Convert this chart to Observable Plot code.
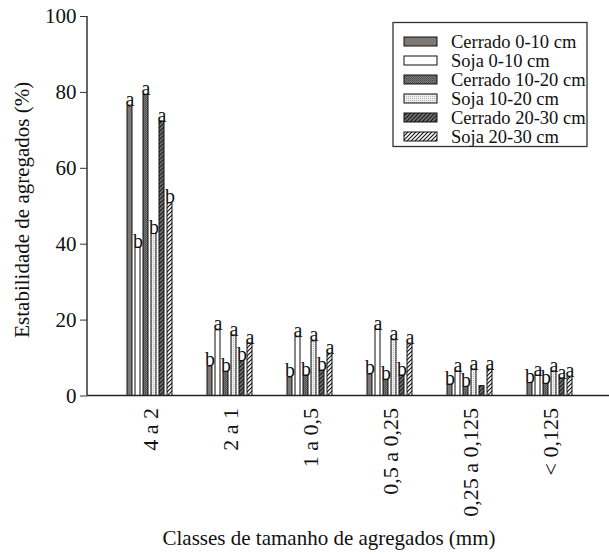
<!DOCTYPE html>
<html>
<head>
<meta charset="utf-8">
<script src="https://cdn.jsdelivr.net/npm/d3@7"></script>
<script src="https://cdn.jsdelivr.net/npm/@observablehq/plot@0.6"></script>
<style>
  html, body { margin: 0; padding: 0; background: #fff; }
  #chart { width: 609px; height: 554px; }
</style>
</head>
<body>
<div id="chart"></div>
<script>
// ---- data ----
const groups = ["4 a 2", "2 a 1", "1 a 0,5", "0,5 a 0,25", "0,25 a 0,125", "< 0,125"];
const series = ["Cerrado 0-10 cm", "Soja 0-10 cm", "Cerrado 10-20 cm", "Soja 10-20 cm", "Cerrado 20-30 cm", "Soja 20-30 cm"];

const cerrado0_10 = [76.3, 7.8, 4.9, 5.7, 3.0, 3.4];
const soja0_10    = [39.1, 17.3, 15.5, 17.4, 6.4, 5.3];
const cerrado10_20 = [79.3, 6.4, 5.4, 4.3, 2.4, 3.2];
const soja10_20    = [42.7, 15.9, 14.4, 14.7, 6.9, 6.4];
const cerrado20_30 = [72.3, 9.2, 6.7, 5.4, 2.6, 4.6];
const soja20_30    = [50.8, 13.8, 11.0, 13.6, 6.9, 4.9];

const lettersCerrado0_10  = ["a", "b", "b", "b", "b", "b"];
const lettersSoja0_10     = ["b", "a", "a", "a", "a", "a"];
const lettersCerrado10_20 = ["a", "b", "b", "b", "b", "b"];
const lettersSoja10_20    = ["b", "a", "a", "a", "a", "a"];
const lettersCerrado20_30 = ["a", "b", "b", "b", "", "a"];
const lettersSoja20_30    = ["b", "a", "a", "a", "a", "a"];

const yTicks = [0, 20, 40, 60, 80, 100];

const values = [cerrado0_10, soja0_10, cerrado10_20, soja10_20, cerrado20_30, soja20_30];
const letters = [lettersCerrado0_10, lettersSoja0_10, lettersCerrado10_20, lettersSoja10_20, lettersCerrado20_30, lettersSoja20_30];

const data = [];
groups.forEach((g, gi) => {
  series.forEach((s, si) => {
    data.push({group: g, series: s, value: values[si][gi], letter: letters[si][gi]});
  });
});

const patternIds = ["p0", "p1", "p2", "p3", "p4", "p5"];
const fills = patternIds.map(id => `url(#${id})`);
const FONT = "Liberation Serif";
const ML = 87;

function build(axisDx) {
  return Plot.plot({
    width: 609,
    height: 554,
    marginLeft: ML,
    marginRight: 1,
    marginTop: 16,
    marginBottom: 158.5,
    style: {fontFamily: FONT, fontSize: "21px", color: "#111", background: "#fff"},
    fx: {domain: groups, paddingInner: 0.3, paddingOuter: 0.406, align: 0.538},
    x: {domain: series, padding: 0.35, axis: null},
    y: {domain: [0, 100]},
    color: {domain: series, range: fills},
    marks: [
      Plot.barY(data, {fx: "group", x: "series", y: "value", fill: "series", stroke: "#111", strokeWidth: 1}),
      Plot.text(data, {fx: "group", x: "series", y: "value", text: "letter", lineAnchor: "bottom", dy: 0,
        fontSize: 20, fontFamily: FONT, fill: "#111"}),
      Plot.axisY({ticks: yTicks, tickSize: 7, tickPadding: 4, fontSize: 21, fontFamily: FONT, stroke: "#333",
        label: null, dx: axisDx}),
      Plot.axisFx({anchor: "bottom", tickSize: 0, tickPadding: 12, tickRotate: -90, fontSize: 22, fontFamily: FONT, label: null})
    ]
  });
}

// first pass: find where the leftmost facet starts so the y axis can sit on the frame's left edge
const probe = build(0);
const firstFacetLeft = probe.scale("fx").apply(groups[0]);
const chart = build(ML - firstFacetLeft);

const svg = d3.select(chart);
// force the serif face on every text the library drew
svg.style("font-family", "'Liberation Serif', serif");
svg.selectAll("g").filter(function() { return this.hasAttribute("font-family"); })
  .attr("font-family", "'Liberation Serif', serif");
svg.selectAll("text").attr("font-family", "'Liberation Serif', serif").style("font-family", "'Liberation Serif', serif");
svg.selectAll("tspan").style("font-family", "'Liberation Serif', serif");

// patterns
const defs = svg.insert("defs", ":first-child");
defs.append("pattern").attr("id", "p0").attr("patternUnits", "userSpaceOnUse").attr("width", 4).attr("height", 4)
  .append("rect").attr("width", 4).attr("height", 4).attr("fill", "#7e7975");
defs.append("pattern").attr("id", "p1").attr("patternUnits", "userSpaceOnUse").attr("width", 4).attr("height", 4)
  .append("rect").attr("width", 4).attr("height", 4).attr("fill", "#fff");
{
  const p = defs.append("pattern").attr("id", "p2").attr("patternUnits", "userSpaceOnUse").attr("width", 2).attr("height", 2);
  p.append("rect").attr("width", 2).attr("height", 2).attr("fill", "#7a7a7a");
  p.append("rect").attr("width", 1).attr("height", 1).attr("fill", "#4a4a4a");
  p.append("rect").attr("x", 1).attr("y", 1).attr("width", 1).attr("height", 1).attr("fill", "#5a5a5a");
}
{
  const p = defs.append("pattern").attr("id", "p3").attr("patternUnits", "userSpaceOnUse").attr("width", 2).attr("height", 2);
  p.append("rect").attr("width", 2).attr("height", 2).attr("fill", "#eeeeee");
  p.append("rect").attr("width", 1).attr("height", 1).attr("fill", "#b8b8b8");
}
{
  const p = defs.append("pattern").attr("id", "p4").attr("patternUnits", "userSpaceOnUse").attr("width", 4).attr("height", 4);
  p.append("rect").attr("width", 4).attr("height", 4).attr("fill", "#7a7a7a");
  p.append("path").attr("d", "M-1,1 l2,-2 M0,4 l4,-4 M3,5 l2,-2").attr("stroke", "#222").attr("stroke-width", 1.3);
}
{
  const p = defs.append("pattern").attr("id", "p5").attr("patternUnits", "userSpaceOnUse").attr("width", 4).attr("height", 4);
  p.append("rect").attr("width", 4).attr("height", 4).attr("fill", "#fff");
  p.append("path").attr("d", "M-1,1 l2,-2 M0,4 l4,-4 M3,5 l2,-2").attr("stroke", "#111").attr("stroke-width", 1.1);
}

// axis lines using the y scale
const ys = chart.scale("y");
const y0 = ys.apply(0), y100 = ys.apply(100);
svg.append("line").attr("x1", ML).attr("x2", ML).attr("y1", y100).attr("y2", y0)
  .attr("stroke", "#333").attr("stroke-width", 1.5);
svg.append("line").attr("x1", ML).attr("x2", 609).attr("y1", y0).attr("y2", y0)
  .attr("stroke", "#222").attr("stroke-width", 1.6);

// y-axis title
svg.append("text").attr("transform", `translate(29,${(y0 + y100) / 2 + 4}) rotate(-90)`)
  .attr("text-anchor", "middle").attr("font-family", FONT).attr("font-size", 21).attr("fill", "#111")
  .text("Estabilidade de agregados (%)");

// x-axis title
svg.append("text").attr("x", 329).attr("y", 545).attr("text-anchor", "middle")
  .attr("font-family", FONT).attr("font-size", 21).attr("fill", "#111")
  .text("Classes de tamanho de agregados (mm)");

// legend
const lg = svg.append("g").attr("font-family", FONT).attr("font-size", 18.5).attr("fill", "#111").attr("text-anchor", "start");
lg.append("rect").attr("x", 393).attr("y", 22.5).attr("width", 194).attr("height", 124)
  .attr("fill", "#fff").attr("stroke", "#333").attr("stroke-width", 1.3);
series.forEach((s, i) => {
  const yy = 37 + i * 19;
  lg.append("rect").attr("x", 404).attr("y", yy).attr("width", 33).attr("height", 9)
    .attr("fill", fills[i]).attr("stroke", "#111").attr("stroke-width", 1);
  lg.append("text").attr("x", 451).attr("y", yy + 10.5).attr("text-anchor", "start").text(s);
});

document.getElementById("chart").appendChild(chart);
</script>
</body>
</html>
